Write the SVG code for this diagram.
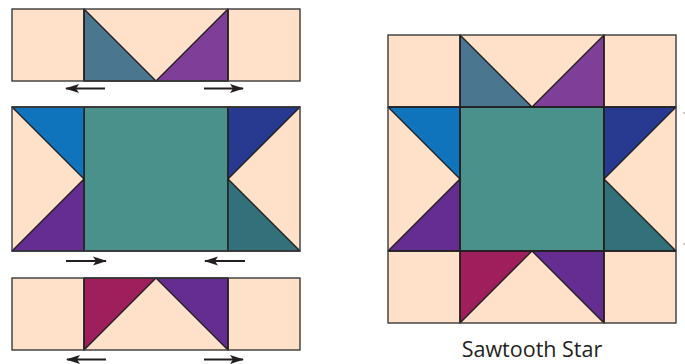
<svg xmlns="http://www.w3.org/2000/svg" width="685" height="364" viewBox="0 0 685 364">
<defs>
<style>
.bg{fill:#FEE1C8}
.s{stroke:#231F20;stroke-width:1.4;stroke-linejoin:round}
.o{fill:none;stroke:#3a3a3a;stroke-width:1.4}
.arr{stroke:#231F20;stroke-width:2;fill:none}
.lbl{font-family:"Open Sans","Noto Sans",sans-serif;font-size:21.5px;fill:#231F20}
</style>
<marker id="ah" viewBox="0 0 14 10" refX="13" refY="5" markerWidth="14" markerHeight="10" markerUnits="userSpaceOnUse" orient="auto">
<path d="M0,0.5 L14,5 L0,9.5 L3,5 Z" fill="#231F20"/>
</marker>
</defs>
<rect width="685" height="364" fill="#FFFFFF"/>

<g id="row-top">
<rect x="12" y="9" width="288" height="72" class="bg"/>
<polygon points="84,9 84,81 156,81" fill="#4A768F" class="s"/>
<polygon points="228,9 228,81 156,81" fill="#7F3F98" class="s"/>
<line x1="84" y1="9" x2="84" y2="81" class="s"/>
<line x1="228" y1="9" x2="228" y2="81" class="s"/>
<rect x="12" y="9" width="288" height="72" class="o"/>
</g>

<g id="row-middle">
<rect x="12" y="107" width="288" height="144" class="bg"/>
<rect x="84" y="107" width="144" height="144" fill="#4B918B" class="s"/>
<polygon points="12,107 84,107 84,179" fill="#1074BC" class="s"/>
<polygon points="12,251 84,251 84,179" fill="#662D91" class="s"/>
<polygon points="228,107 300,107 228,179" fill="#283A8F" class="s"/>
<polygon points="228,251 300,251 228,179" fill="#32717A" class="s"/>
<rect x="12" y="107" width="288" height="144" class="o"/>
</g>

<g id="row-bottom">
<rect x="12" y="278" width="288" height="72" class="bg"/>
<polygon points="84,278 156,278 84,350" fill="#9E1F5B" class="s"/>
<polygon points="156,278 228,278 228,350" fill="#662D91" class="s"/>
<line x1="84" y1="278" x2="84" y2="350" class="s"/>
<line x1="228" y1="278" x2="228" y2="350" class="s"/>
<rect x="12" y="278" width="288" height="72" class="o"/>
</g>

<g id="sawtooth-star">
<rect x="388" y="35" width="288" height="288" class="bg"/>
<rect x="460" y="107" width="144" height="144" fill="#4B918B" class="s"/>
<polygon points="460,35 460,107 532,107" fill="#4A768F" class="s"/>
<polygon points="604,35 604,107 532,107" fill="#7F3F98" class="s"/>
<polygon points="388,107 460,107 460,179" fill="#1074BC" class="s"/>
<polygon points="388,251 460,251 460,179" fill="#662D91" class="s"/>
<polygon points="604,107 676,107 604,179" fill="#283A8F" class="s"/>
<polygon points="604,251 676,251 604,179" fill="#32717A" class="s"/>
<polygon points="460,251 532,251 460,323" fill="#9E1F5B" class="s"/>
<polygon points="532,251 604,251 604,323" fill="#662D91" class="s"/>
<line x1="460" y1="35" x2="460" y2="323" class="s"/>
<line x1="604" y1="35" x2="604" y2="323" class="s"/>
<line x1="388" y1="107" x2="676" y2="107" class="s"/>
<line x1="388" y1="251" x2="676" y2="251" class="s"/>
<rect x="388" y="35" width="288" height="288" class="o"/>
<text x="532" y="357" text-anchor="middle" class="lbl">Sawtooth Star</text>
</g>

<g id="connectors">
<line x1="105" y1="88.5" x2="66" y2="88.5" class="arr" marker-end="url(#ah)"/>
<line x1="204" y1="88.5" x2="243" y2="88.5" class="arr" marker-end="url(#ah)"/>
<line x1="66" y1="261" x2="106" y2="261" class="arr" marker-end="url(#ah)"/>
<line x1="245" y1="261" x2="205" y2="261" class="arr" marker-end="url(#ah)"/>
<line x1="106" y1="359.5" x2="67" y2="359.5" class="arr" marker-end="url(#ah)"/>
<line x1="204" y1="359.5" x2="243" y2="359.5" class="arr" marker-end="url(#ah)"/>
<line x1="683" y1="113" x2="685" y2="113" stroke="#999" stroke-width="1"/>
<line x1="683" y1="244" x2="685" y2="244" stroke="#999" stroke-width="1"/>
</g>
</svg>
